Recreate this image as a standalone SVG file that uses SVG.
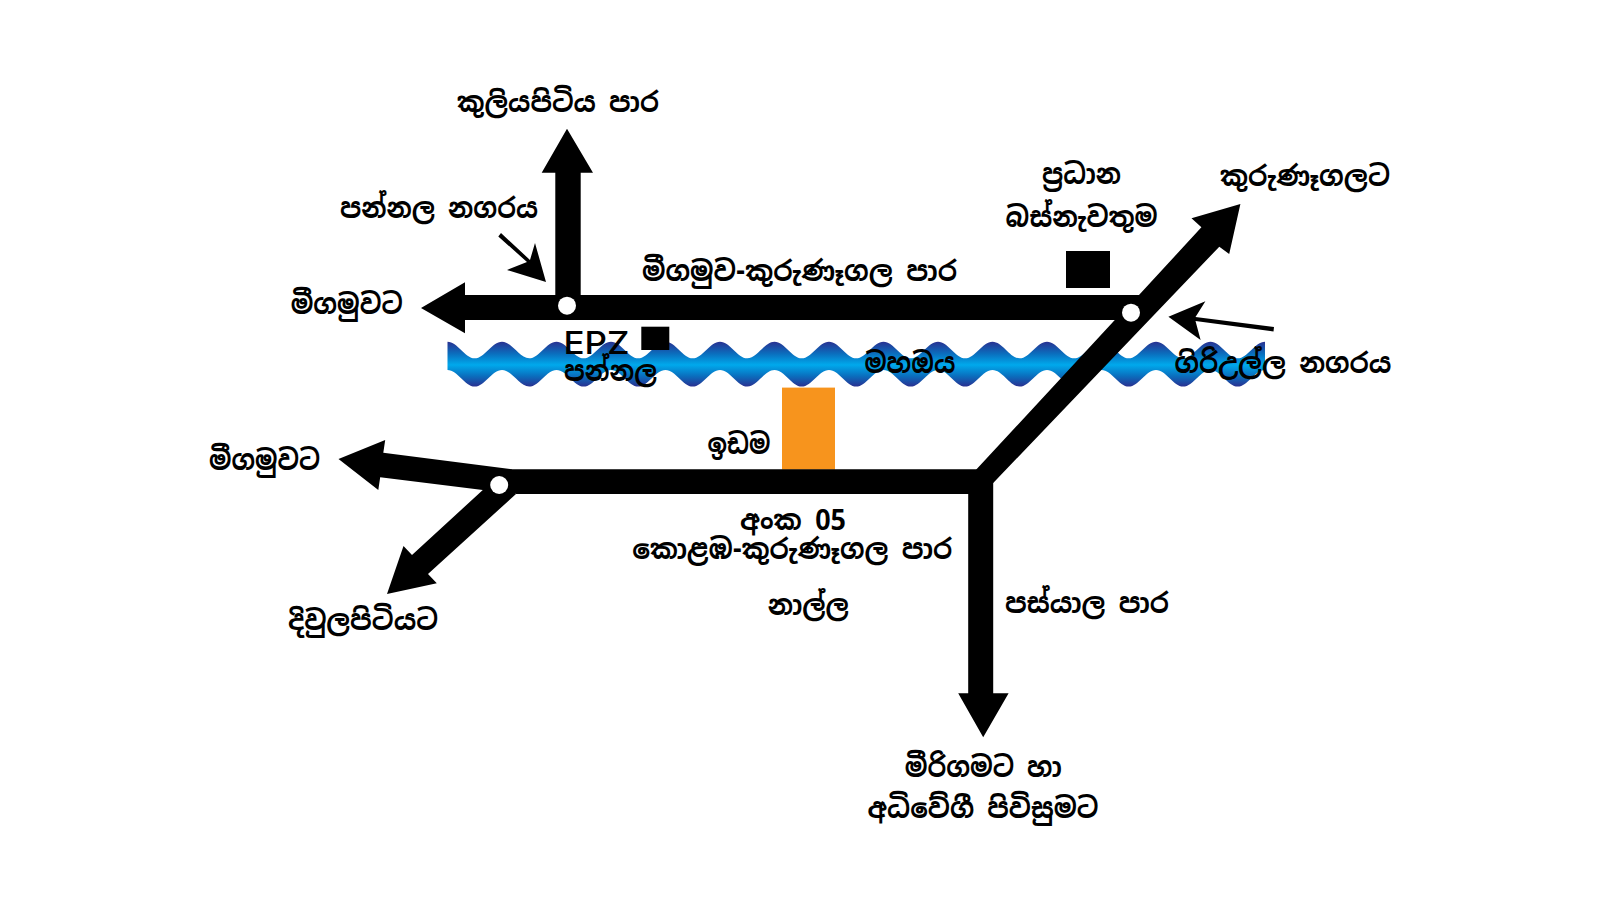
<svg xmlns="http://www.w3.org/2000/svg" width="1600" height="912" viewBox="0 0 1600 912">
<defs>
<linearGradient id="river" gradientUnits="userSpaceOnUse" x1="0" y1="341" x2="0" y2="387">
<stop offset="0" stop-color="#2b2e8f"/><stop offset=".28" stop-color="#0a6fbe"/><stop offset=".52" stop-color="#00a9ec"/><stop offset=".76" stop-color="#0a6fbe"/><stop offset="1" stop-color="#2b2e8f"/>
</linearGradient>
</defs>
<style>
text{font-family:"Noto Sans Sinhala","Noto Serif Sinhala","Noto Sans","DejaVu Sans",sans-serif;font-weight:700;font-size:28px;fill:#000;text-anchor:middle}
text.la{font-family:"Inter","Liberation Sans",sans-serif;font-weight:500;font-size:31px}
.road{fill:#000}
.jn{fill:#fff}
.sq{fill:#000}
</style>
<rect width="1600" height="912" fill="#fff"/>
<g id="river-mahaoya">
<path fill="url(#river)" d="M447.5 341.7c10 0 17.25 16.6 27.25 16.6s17.25-16.6 27.25-16.6c10 0 17.25 16.6 27.25 16.6s17.25-16.6 27.25-16.6c10 0 17.25 16.6 27.25 16.6s17.25-16.6 27.25-16.6c10 0 17.25 16.6 27.25 16.6s17.25-16.6 27.25-16.6c10 0 17.25 16.6 27.25 16.6s17.25-16.6 27.25-16.6c10 0 17.25 16.6 27.25 16.6s17.25-16.6 27.25-16.6c10 0 17.25 16.6 27.25 16.6s17.25-16.6 27.25-16.6c10 0 17.25 16.6 27.25 16.6s17.25-16.6 27.25-16.6c10 0 17.25 16.6 27.25 16.6s17.25-16.6 27.25-16.6c10 0 17.25 16.6 27.25 16.6s17.25-16.6 27.25-16.6c10 0 17.25 16.6 27.25 16.6s17.25-16.6 27.25-16.6c10 0 17.25 16.6 27.25 16.6s17.25-16.6 27.25-16.6c10 0 17.25 16.6 27.25 16.6s17.25-16.6 27.25-16.6c10 0 17.25 16.6 27.25 16.6s17.25-16.6 27.25-16.6c10 0 17.25 16.6 27.25 16.6s17.25-16.6 27.25-16.6V369.9c-10 0-17.25 16.6-27.25 16.6s-17.25-16.6-27.25-16.6c-10 0-17.25 16.6-27.25 16.6s-17.25-16.6-27.25-16.6c-10 0-17.25 16.6-27.25 16.6s-17.25-16.6-27.25-16.6c-10 0-17.25 16.6-27.25 16.6s-17.25-16.6-27.25-16.6c-10 0-17.25 16.6-27.25 16.6s-17.25-16.6-27.25-16.6c-10 0-17.25 16.6-27.25 16.6s-17.25-16.6-27.25-16.6c-10 0-17.25 16.6-27.25 16.6s-17.25-16.6-27.25-16.6c-10 0-17.25 16.6-27.25 16.6s-17.25-16.6-27.25-16.6c-10 0-17.25 16.6-27.25 16.6s-17.25-16.6-27.25-16.6c-10 0-17.25 16.6-27.25 16.6s-17.25-16.6-27.25-16.6c-10 0-17.25 16.6-27.25 16.6s-17.25-16.6-27.25-16.6c-10 0-17.25 16.6-27.25 16.6s-17.25-16.6-27.25-16.6c-10 0-17.25 16.6-27.25 16.6s-17.25-16.6-27.25-16.6c-10 0-17.25 16.6-27.25 16.6s-17.25-16.6-27.25-16.6c-10 0-17.25 16.6-27.25 16.6s-17.25-16.6-27.25-16.6Z"/>
</g>
<g id="land-idama"><rect x="782" y="387.6" width="53" height="82" fill="#f7941d"/></g>
<g id="connectors">
<polygon class="road" points="567,128.7 593,172.7 580.7,172.7 580.7,300 555.3,300 555.3,172.7 541.7,172.7"/>
<polygon class="road" points="421,308 465,282.3 465,295 1148,295 1123,320 465,320 465,333.3"/>
<polygon class="road" points="1240.4,204 1229.2,254 1219.3,246.7 993.2,483 968.2,494 968.2,478 976.5,469.3 1114.8,320 1139,295 1201.4,227.3 1191.5,218.3"/>
<polygon class="road" points="983.2,737.3 958.2,693.3 968.2,693.3 968.2,480 993.2,480 993.2,693.3 1008.6,693.3"/>
<polygon class="road" points="512.2,469.3 980,469.3 980,494 516,494 490,482"/>
<polygon class="road" points="338.5,459 385.2,440 383.3,452.7 512.2,469.3 505,490 482.8,490 380.2,477.3 378.3,490"/>
<polygon class="road" points="387,594 403.5,546 412,555 482.8,490 505,485 516,494 428,574 436.8,583.3"/>
<polygon class="road" points="546,282 507,270 527,262 498.3,236.5 501,233 530,260 535,243"/>
<polygon class="road" points="1168.4,316.7 1205.4,301.3 1195.5,317 1274,327 1273.5,331.5 1195.5,321 1200.6,340"/>
</g>
<g id="junction-pannala"><ellipse class="jn" cx="567" cy="305.7" rx="9" ry="9"/></g>
<g id="junction-giriulla"><ellipse class="jn" cx="1131" cy="312.7" rx="9" ry="9"/></g>
<g id="junction-naththandiya"><ellipse class="jn" cx="499.2" cy="485" rx="9" ry="9"/></g>
<g id="bus-stand"><rect class="sq" x="1066" y="251" width="44" height="37"/></g>
<g id="epz-marker"><rect class="sq" x="641.3" y="326.7" width="28" height="23.3"/></g>
<g id="labels">
<text x="558" y="112" textLength="202" lengthAdjust="spacingAndGlyphs">කුලියපිටිය පාර</text>
<text x="439" y="218" textLength="198" lengthAdjust="spacingAndGlyphs">පන්නල නගරය</text>
<text x="346.7" y="314" textLength="112" lengthAdjust="spacingAndGlyphs">මීගමුවට</text>
<text x="799.5" y="281" textLength="315" lengthAdjust="spacingAndGlyphs">මීගමුව-කුරුණෑගල පාර</text>
<text class="la" x="596.5" y="354" textLength="66" lengthAdjust="spacingAndGlyphs">EPZ</text>
<text x="610.5" y="381" textLength="93" lengthAdjust="spacingAndGlyphs">පන්නල</text>
<text x="910" y="373" textLength="91" lengthAdjust="spacingAndGlyphs">මහඔය</text>
<text x="1081.5" y="184" textLength="79" lengthAdjust="spacingAndGlyphs">ප්‍රධාන</text>
<text x="1081.6" y="227" textLength="152" lengthAdjust="spacingAndGlyphs">බස්නැවතුම</text>
<text x="1305" y="186" textLength="170" lengthAdjust="spacingAndGlyphs">කුරුණෑගලට</text>
<text x="1283" y="373" textLength="217" lengthAdjust="spacingAndGlyphs">ගිරිඋල්ල නගරය</text>
<text x="739" y="454" textLength="63" lengthAdjust="spacingAndGlyphs">ඉඩම</text>
<text x="264.5" y="470" textLength="111" lengthAdjust="spacingAndGlyphs">මීගමුවට</text>
<text x="363" y="630" textLength="150" lengthAdjust="spacingAndGlyphs">දිවුලපිටියට</text>
<text x="793" y="530" textLength="106" lengthAdjust="spacingAndGlyphs">අංක 05</text>
<text x="792.2" y="559" textLength="320" lengthAdjust="spacingAndGlyphs">කොළඹ-කුරුණෑගල පාර</text>
<text x="808.3" y="615" textLength="81" lengthAdjust="spacingAndGlyphs">නාල්ල</text>
<text x="1087" y="613" textLength="164" lengthAdjust="spacingAndGlyphs">පස්යාල පාර</text>
<text x="983.2" y="777" textLength="157" lengthAdjust="spacingAndGlyphs">මීරිගමට හා</text>
<text x="983" y="818" textLength="231" lengthAdjust="spacingAndGlyphs">අධිවේගී පිවිසුමට</text>
</g>
</svg>
